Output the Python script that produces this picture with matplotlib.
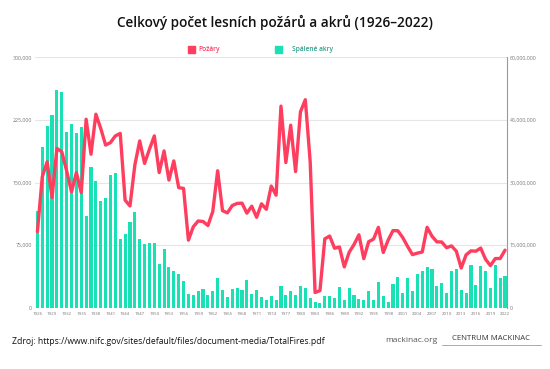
import matplotlib
matplotlib.use("Agg")
import matplotlib.pyplot as plt
import numpy as np

years = list(range(1926, 2023))

fires = [
    91221, 157000, 175000, 132000, 190980, 187000, 164000, 139000, 162000, 138000,
    226000, 184000, 232000, 215000, 195000, 198000, 206000, 209000, 129000, 122000,
    171000, 200000, 173000, 190000, 206000, 162000, 188000, 153000, 176000, 144000,
    143000, 81000, 97000, 104000, 103387, 98517, 115345, 164183, 116358, 113684,
    122500, 125025, 125371, 113351, 121736, 108398, 124554, 117957, 145868, 134872,
    241699, 173998, 218842, 163196, 234892, 249370, 174755, 18229, 20493, 82591,
    85907, 71300, 72750, 48949, 66481, 75754, 87394, 58810, 79107, 82234,
    96363, 66196, 81043, 92487, 92250, 84079, 73457, 63629, 65461, 66753,
    96385, 85705, 78979, 78792, 71971, 74126, 67774, 47579, 63312, 68151,
    67743, 71499, 58083, 50477, 58950, 58985, 68988,
]

acres = [
    23232000, 38500000, 43600000, 46200000, 52300000, 51700000, 42200000, 44000000, 41800000, 43300000,
    22000000, 33700000, 30500000, 25700000, 26300000, 31800000, 32200000, 16400000, 17600000, 20600000,
    23000000, 16400000, 15300000, 15400000, 15400000, 10600000, 14100000, 9800000, 8800000, 8000000,
    6400000, 3300000, 3000000, 4000000, 4478188, 3036219, 4078894, 7120768, 4197309, 2652112,
    4574389, 4658586, 4231996, 6689081, 3278565, 4278472, 2641166, 1915273, 2879095, 1791327,
    5109926, 3152644, 3910913, 2986826, 5260825, 4814206, 2382036, 1323666, 1148409, 2896147,
    2719162, 2447296, 5009290, 1827310, 4621621, 2953578, 2069929, 1797574, 4073579, 1840546,
    6065998, 2856959, 1329704, 5626093, 7393493, 3570911, 7184712, 3960842, 8097880, 8689389,
    9873745, 9328045, 5292468, 5921786, 3422724, 8711367, 9326238, 4319546, 3595613, 10125149,
    5509995, 10026086, 8767492, 4664364, 10122336, 7125643, 7577183,
]

left_ticks = [0, 75000, 150000, 225000, 300000]
right_ticks = [0, 15000000, 30000000, 45000000, 60000000]
xtick_years = list(range(1926, 2023, 3))

RED = "#ff3d5f"
GREEN = "#19e0b5"

plt.rcParams['font.family'] = ['Open Sans', 'DejaVu Sans']

fig = plt.figure(figsize=(5.5, 3.69), dpi=100)
ax = fig.add_axes([0.0636, 0.1661, 0.8582, 0.6781])
ax2 = ax.twinx()

x = np.arange(len(years))
ax2.bar(x, acres, width=0.64, color=GREEN, zorder=2)
ax.plot(x, fires, color=RED, lw=2.4, solid_joinstyle='round', solid_capstyle='round', zorder=5)

ax.set_zorder(ax2.get_zorder() + 1)
ax.patch.set_visible(False)

ax.set_xlim(-0.5, 96.4)
ax.set_ylim(0, 300000)
ax2.set_ylim(0, 60000000)

ax.set_yticks(left_ticks)
ax.set_yticklabels([f"{v:,}" for v in left_ticks])
ax2.set_yticks(right_ticks)
ax2.set_yticklabels([f"{v:,}" for v in right_ticks])

xt_idx = [years.index(y) for y in xtick_years]
ax.set_xticks(xt_idx)
ax.set_xticklabels([str(y) for y in xtick_years])

for a in (ax, ax2):
    for s in a.spines.values():
        s.set_visible(False)
ax2.spines['right'].set_visible(True)
ax2.spines['right'].set_color('#9a9a9a')
ax2.spines['right'].set_linewidth(0.8)

ax2.yaxis.grid(True, color='#e6e6e6', lw=0.8, zorder=0)
ax2.set_axisbelow(True)

ax.tick_params(axis='y', length=0, labelsize=3.8, labelcolor='#777777', pad=2)
ax2.tick_params(axis='y', length=0, labelsize=3.8, labelcolor='#777777', pad=2)
ax.tick_params(axis='x', length=0, labelsize=3.2, labelcolor='#777777', pad=3)

# Title
fig.text(0.5, 0.94, "Celkový počet lesních požárů a akrů (1926–2022)", ha='center', va='center',
         fontsize=9.8, color='#111111', fontweight='semibold')

# Legend
fig.patches.append(plt.Rectangle((188/550, 1-53/369), 7/550, 7/369, transform=fig.transFigure,
                                 color=RED, figure=fig))
fig.text(198/550, 1-49.5/369, "Požáry", ha='left', va='center', fontsize=4.8, color=RED, fontweight='semibold')
fig.patches.append(plt.Rectangle((275/550, 1-53/369), 7/550, 7/369, transform=fig.transFigure,
                                 color=GREEN, figure=fig))
fig.text(292/550, 1-49.5/369, "Spálené akry", ha='left', va='center', fontsize=4.8, color='#2f9e88', fontweight='semibold')

# Footer
fig.text(12/550, 1-341/369, "Zdroj: https://www.nifc.gov/sites/default/files/document-media/TotalFires.pdf",
         ha='left', va='center', fontsize=6.2, color='#111111')
fig.text(385/550, 1-341/369, "mackinac.org", ha='left', va='center', fontsize=6.0, color='#555555')
fig.text(452/550, 1-339/369, "CENTRUM MACKINAC", ha='left', va='center', fontsize=5.6, color='#333333')
fig.add_artist(plt.Line2D([442/550, 541/550], [1-345/369, 1-345/369], color='#888888', lw=0.5))

fig.savefig("out.png", dpi=100, facecolor='white')
